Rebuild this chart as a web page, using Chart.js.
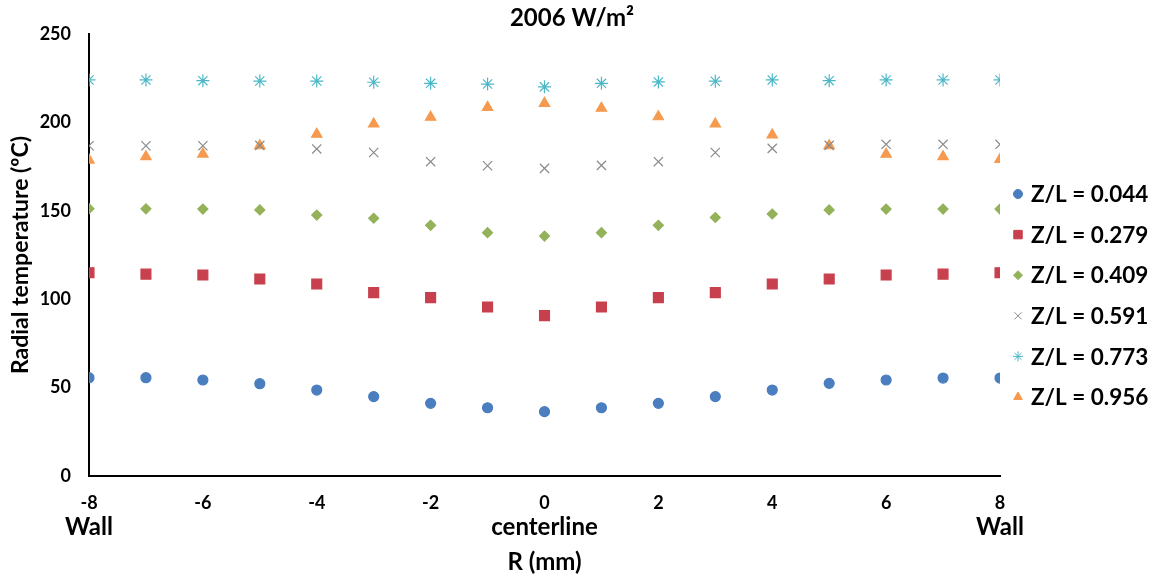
<!DOCTYPE html>
<html>
<head>
<meta charset="utf-8">
<script src="https://cdn.jsdelivr.net/npm/chart.js@4"></script>
<style>
  html, body { margin: 0; padding: 0; background: #fff; }
  #wrap { width: 1160px; height: 577px; }
</style>
</head>
<body>
<div id="wrap"><canvas id="tempChart"></canvas></div>
<script>
// Radial positions (mm), wall to wall
const radius = [-8, -7, -6, -5, -4, -3, -2, -1, 0, 1, 2, 3, 4, 5, 6, 7, 8];

// Radial temperature (ºC) at each axial station Z/L
const zl044 = [55.6, 55.6, 54.3, 52.2, 48.6, 44.9, 41.1, 38.6, 36.4, 38.6, 41.1, 44.9, 48.6, 52.4, 54.3, 55.4, 55.4];
const zl279 = [115, 114.2, 113.7, 111.4, 108.6, 103.7, 100.9, 95.6, 90.7, 95.6, 100.9, 103.7, 108.6, 111.4, 113.7, 114.2, 115];
const zl409 = [151.2, 151.1, 151, 150.5, 147.6, 145.8, 141.8, 137.6, 135.7, 137.6, 141.8, 146.2, 148.2, 150.5, 151, 151, 151];
const zl591 = [186.8, 186.8, 186.8, 187, 185, 183, 177.8, 175.5, 174, 175.7, 177.8, 183, 185.3, 187, 187.6, 187.6, 187.6];
const zl773 = [224, 224, 223.6, 223.4, 223.4, 222.7, 222.1, 221.7, 220.1, 222.1, 222.9, 223.3, 224, 223.6, 224, 224, 224];
const zl956 = [178.7, 180.6, 182.1, 186.8, 193.3, 199.1, 202.9, 208.5, 210.8, 208, 203.2, 199.1, 192.9, 186.8, 182, 180.6, 179.1];

const seriesNames = ['Z/L = 0.044', 'Z/L = 0.279', 'Z/L = 0.409', 'Z/L = 0.591', 'Z/L = 0.773', 'Z/L = 0.956'];

// Labels under the x ticks marking the wall and the tube axis
const positionNotes = [[-8, 'Wall'], [0, 'centerline'], [8, 'Wall']];

const FONT = 'Lato, "Open Sans", sans-serif';

function pts(values) {
  return radius.map((r, i) => ({ x: r, y: values[i] }));
}

const styles = [
  { pointStyle: 'circle',   color: '#4a7ebf', radius: 5,   legendRadius: 4.5 },
  { pointStyle: 'rect',     color: '#c8404d', radius: 7,   legendRadius: 6 },
  { pointStyle: 'rectRot',  color: '#93b25a', radius: 5,   legendRadius: 4.5 },
  { pointStyle: 'crossRot', color: '#8a8a8a', radius: 6.5, legendRadius: 5 },
  { pointStyle: 'star',     color: '#4bb8c8', radius: 6.5, legendRadius: 5 },
  { pointStyle: 'triangle', color: '#f59a4f', radius: 6,   legendRadius: 5 }
];

const allSeries = [zl044, zl279, zl409, zl591, zl773, zl956];

const datasets = allSeries.map((vals, i) => ({
  label: seriesNames[i],
  data: pts(vals),
  pointStyle: styles[i].pointStyle,
  pointRadius: styles[i].radius,
  pointHoverRadius: styles[i].radius,
  backgroundColor: styles[i].color,
  borderColor: styles[i].color,
  borderWidth: 1.2,
  showLine: false
}));

// Draws the heading, wall/centerline notes and the side legend
const extras = {
  id: 'extras',
  afterDraw(chart) {
    const ctx = chart.ctx;
    const xs = chart.scales.x;
    ctx.save();
    ctx.fillStyle = '#000';
    ctx.textAlign = 'center';
    ctx.textBaseline = 'middle';

    ctx.font = 'bold 24px ' + FONT;
    ctx.fillText('2006 W/m²', 572, 18);

    positionNotes.forEach(([r, txt]) => {
      ctx.fillText(txt, xs.getPixelForValue(r), 527);
    });

    ctx.font = 'bold 22.5px ' + FONT;
    ctx.textAlign = 'left';
    chart.data.datasets.forEach((ds, i) => {
      const y = 194 + i * 40.6;
      ctx.fillStyle = ds.backgroundColor;
      ctx.strokeStyle = ds.borderColor;
      ctx.lineWidth = 1;
      Chart.helpers.drawPoint(ctx, {
        pointStyle: ds.pointStyle,
        radius: styles[i].legendRadius,
        borderWidth: 1,
        rotation: 0
      }, 1018, y);
      ctx.fillStyle = '#000';
      ctx.fillText(ds.label, 1031, y + 1);
    });
    ctx.restore();
  }
};

new Chart(document.getElementById('tempChart'), {
  type: 'scatter',
  data: { datasets: datasets },
  options: {
    responsive: true,
    maintainAspectRatio: false,
    animation: false,
    layout: { padding: { top: 34, right: 160, left: 0, bottom: 0 } },
    plugins: {
      legend: { display: false },
      title: { display: false },
      tooltip: { enabled: false }
    },
    scales: {
      x: {
        type: 'linear',
        min: -8,
        max: 8,
        afterFit(scale) { scale.height = 101; },
        grid: { display: false, drawTicks: false },
        border: { display: true, color: '#000', width: 2 },
        ticks: {
          stepSize: 2,
          padding: 16,
          color: '#000',
          font: { family: FONT, size: 18, weight: 'bold' }
        },
        title: {
          display: true,
          text: 'R (mm)',
          color: '#000',
          padding: { top: 0, bottom: 0 },
          font: { family: FONT, size: 24, weight: 'bold' }
        }
      },
      y: {
        min: 0,
        max: 250,
        afterFit(scale) { scale.width = 89; },
        grid: { display: false, drawTicks: false },
        border: { display: true, color: '#000', width: 2 },
        ticks: {
          stepSize: 50,
          padding: 18,
          color: '#000',
          font: { family: FONT, size: 18, weight: 'bold' }
        },
        title: {
          display: true,
          text: 'Radial temperature (ºC)',
          color: '#000',
          padding: { top: 7, bottom: 0 },
          font: { family: FONT, size: 23, weight: 'bold' }
        }
      }
    }
  },
  plugins: [extras]
});
</script>
</body>
</html>
